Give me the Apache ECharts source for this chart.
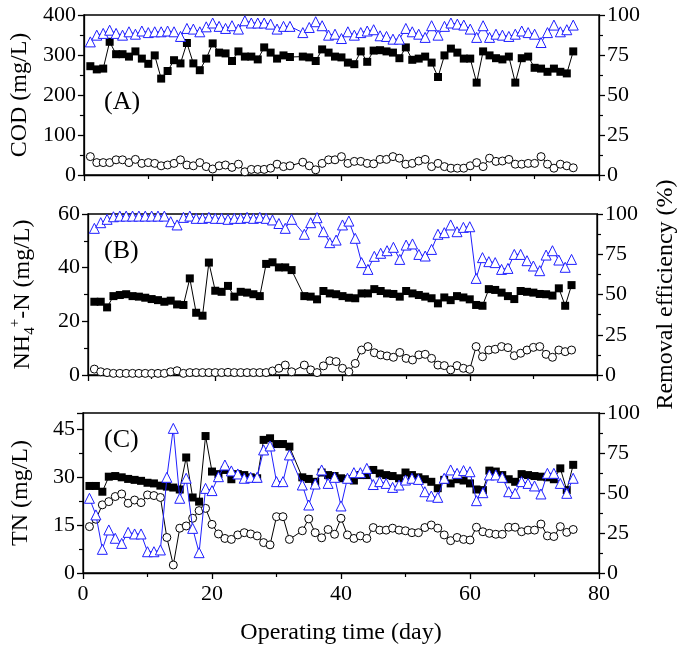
<!DOCTYPE html>
<html>
<head>
<meta charset="utf-8">
<script src="https://cdn.jsdelivr.net/npm/echarts@6/dist/echarts.min.js"></script>
<style>
  html, body { margin: 0; padding: 0; background: #fff; }
  #main { width: 686px; height: 654px; }
</style>
</head>
<body>
<div id="main"></div>
<script>
// operating days (no sample on day 33)
var days = [1,2,3,4,5,6,7,8,9,10,11,12,13,14,15,16,17,18,19,20,21,22,23,24,25,26,27,28,29,30,31,32,
    34,35,36,37,38,39,40,41,42,43,44,45,46,47,48,49,50,51,52,53,54,55,56,57,58,59,60,61,62,63,64,65,66,67,68,69,70,71,72,73,74,75,76];

// (A) COD mg/L
var codIn = [272,264,266,333,302,302,296,309,291,278,299,241,260,287,279,330,279,262,291,329,306,304,285,309,296,296,289,319,306,291,299,295,
    296,294,285,314,306,296,294,281,277,309,283,311,312,309,306,292,319,288,291,296,281,245,299,316,306,291,291,231,309,299,292,289,296,231,292,296,268,266,258,266,258,254,309];
var codOut = [46,31,31,31,38,38,31,39,29,31,29,23,25,29,38,25,23,31,21,15,23,25,19,27,8,14,14,14,17,27,21,23,
    32,23,13,29,38,38,46,29,34,34,29,28,39,39,46,42,27,29,35,39,21,29,21,17,17,17,23,31,21,42,34,35,39,27,27,29,29,46,27,17,27,23,18];
var codEff = [83.2,87.4,88.5,90.5,88.5,87.4,89.5,88,90,89,89.5,89.5,90,89.5,86.6,91.6,91.2,89.5,92.6,95,92.9,91.6,93.3,91.2,96.4,95,95,95,94.3,91.2,92.9,92.9,
    89,92.2,95.8,93.3,87.4,88,85.3,89.5,87.4,89,90,90.8,87,86.6,84.9,84.9,91.6,89.5,88,86,93.3,87.4,92.9,95,94.3,93.7,91.2,86,93.3,86,88,87.4,86.6,88,90,89,88,82.8,89,93.7,89.5,90.8,93.7];

// (B) NH4+-N mg/L
var nh4In = [27.3,27.3,25.2,29.4,29.8,30.1,29.4,29.2,28.8,28.3,27.9,27.3,27.7,26.3,26.1,36.0,23.2,22.1,41.9,31.4,31.0,33.2,29.2,31.0,30.7,30.1,29.4,41.4,42.0,40.1,40.1,39.1,
    29.4,29.2,28.2,31.3,30.4,30.1,29.4,28.8,28.6,30.4,30.4,32.0,31.3,30.4,30.2,29.2,31.3,30.4,29.8,29.2,28.6,26.7,28.9,27.9,29.4,28.9,28.2,26.1,25.8,32.0,31.7,30.7,29.4,28.3,31.3,31.0,30.7,30.2,30.1,29.6,32.3,25.8,33.5];
var nh4Out = [2.2,1.2,0.9,0.6,0.6,0.6,0.6,0.6,0.6,0.6,0.6,0.6,1.2,1.6,0.6,0.9,0.9,0.9,0.9,0.9,0.9,1.0,0.9,0.9,0.9,0.9,0.9,0.9,1.5,2.5,3.7,1.2,
    3.7,1.9,0.9,3.4,5.3,5.0,2.5,1.2,4.3,9.3,10.6,8.3,7.5,7.1,6.6,8.4,6.2,5.6,7.5,7.7,6.2,3.7,3.5,1.9,3.5,2.5,2.1,10.6,6.8,9.3,9.6,10.6,10.2,7.2,8.1,9.3,10.3,10.6,7.7,6.6,9.3,8.7,9.3];
var nh4Eff = [91.1,94.6,96.7,98.3,98.7,98.7,98.7,98.7,98.7,98.7,98.7,98.7,95.2,93.2,97.9,98.7,97.3,97.3,97.9,97.3,97.3,96.7,97.3,97.3,97.9,97.3,97.9,97.3,96.3,94.1,91.1,96.7,
    87.4,94.6,97.7,89,82.2,83.8,93.2,95.6,84.9,69.8,65.6,73.7,75.6,77.2,79.3,71.8,80.7,81.4,74.9,73.9,78.0,87.4,88.4,93.2,89,91.7,92.1,60,72.9,70.4,69.8,65.6,66.2,74.9,74.9,71,67.7,64.8,74.5,77.2,71.4,66.9,71.8];

// (C) TN mg/L
var tnIn = [27.2,27.2,25.4,30.1,30.3,29.9,29.4,29.1,28.8,28.2,28.0,27.3,27.0,26.7,26.1,36.1,23.6,22.3,42.8,31.7,30.9,32.2,29.3,30.9,30.6,29.9,29.6,41.6,42.1,40.3,40.3,39.5,
    29.9,29.4,28.5,31.4,30.6,30.3,29.6,29.3,28.9,30.6,30.6,32.2,31.1,30.6,30.3,29.6,31.4,30.6,29.9,29.3,28.5,26.5,29.1,28.0,29.3,28.9,28.0,26.1,25.9,32.0,31.7,30.6,29.3,28.5,30.9,30.6,30.3,30.1,29.9,29.3,32.7,25.9,33.8];
var tnOut = [14.5,16.8,21.3,22.3,23.9,24.7,21.8,22.8,22.0,24.4,24.2,23.6,11.1,2.5,14.0,14.7,17.1,19.5,20.2,15.2,12.2,10.8,10.5,11.9,12.6,12.2,11.6,9.5,8.8,17.6,17.6,10.5,
    13.2,16.9,12.6,11.0,13.6,12.1,17.1,11.9,10.8,11.6,10.8,14.2,13.4,13.4,14.0,13.4,13.2,12.6,12.6,14.2,15.0,14.0,11.9,10.1,11.1,10.5,10.3,14.3,12.9,12.4,12.1,12.1,14.3,14.3,12.9,13.4,13.4,15.3,11.6,11.4,14.5,12.7,13.6];
var tnEff = [46.7,36.3,14.8,26.9,21.7,18.5,25.4,24.4,24.4,13.3,13.3,14.4,59.8,90.4,46.7,59.2,27.9,12.7,52.9,51.5,60.2,67.5,63.8,61.9,59.2,59.8,59.8,76.9,79.4,57.1,57.1,73.8,
    55,42.5,55.6,64.4,56,59.8,41.9,59.2,62.7,62.7,65.4,55.3,57.1,56,53.5,55,58.1,59.2,58.5,50.8,48.1,47.3,59.2,64.4,62.3,64,63.3,45.2,50.2,61.3,61.3,59.8,50.8,49.8,57.1,56,54.4,49.4,62.3,62.3,56,49.8,59.2];

var FONT = 'Liberation Serif';
var BLUE = '#1f1fff';

function pairs(arr) {
    return days.map(function (d, i) { return [d, arr[i]]; });
}

function xAxisFor(idx, showLabel) {
    var ax = {
        type: 'value', gridIndex: idx, min: 0, max: 80, interval: 20,
        axisLine: { onZero: false, lineStyle: { color: '#000', width: 1.3 } },
        axisTick: { length: 6, lineStyle: { color: '#000', width: 1.3 } },
        minorTick: { show: true, splitNumber: 2, length: 4, lineStyle: { color: '#000', width: 1.2 } },
        splitLine: { show: false },
        axisLabel: { show: showLabel, color: '#000', fontFamily: FONT, fontSize: 22, margin: 10 }
    };
    if (showLabel) {
        ax.name = 'Operating time (day)';
        ax.nameLocation = 'middle';
        ax.nameGap = 48;
        ax.nameTextStyle = { color: '#000', fontFamily: FONT, fontSize: 24 };
    }
    return ax;
}

function leftAxis(idx, max, interval, name, extra) {
    var ax = {
        type: 'value', gridIndex: idx, position: 'left', min: 0, max: max, interval: interval,
        axisLine: { show: true, lineStyle: { color: '#000', width: 1.3 } },
        axisTick: { length: 6, lineStyle: { color: '#000', width: 1.3 } },
        minorTick: { show: true, splitNumber: 2, length: 4, lineStyle: { color: '#000', width: 1.2 } },
        splitLine: { show: false },
        axisLabel: { color: '#000', fontFamily: FONT, fontSize: 22, margin: 8 },
        name: name, nameLocation: 'middle', nameGap: 50,
        nameTextStyle: { color: '#000', fontFamily: FONT, fontSize: 24 }
    };
    if (extra) { for (var k in extra) ax[k] = extra[k]; }
    return ax;
}

function rightAxis(idx, withName) {
    var ax = {
        type: 'value', gridIndex: idx, position: 'right', min: 0, max: 100, interval: 25,
        axisLine: { show: true, lineStyle: { color: '#000', width: 1.3 } },
        axisTick: { length: 6, lineStyle: { color: '#000', width: 1.3 } },
        minorTick: { show: true, splitNumber: 2, length: 4, lineStyle: { color: '#000', width: 1.2 } },
        splitLine: { show: false },
        axisLabel: { color: '#000', fontFamily: FONT, fontSize: 22, margin: 8 }
    };
    if (withName) {
        ax.name = 'Removal efficiency (%)';
        ax.nameLocation = 'middle';
        ax.nameGap = 57;
        ax.nameTextStyle = { color: '#000', fontFamily: FONT, fontSize: 24 };
    }
    return ax;
}

function squares(arr, xi, yi) {
    return { type: 'line', xAxisIndex: xi, yAxisIndex: yi, data: pairs(arr),
        symbol: 'rect', symbolSize: 8, z: 3,
        itemStyle: { color: '#000' }, lineStyle: { color: '#000', width: 1 } };
}
function circles(arr, xi, yi) {
    return { type: 'line', xAxisIndex: xi, yAxisIndex: yi, data: pairs(arr),
        symbol: 'circle', symbolSize: 8, z: 3,
        itemStyle: { color: '#fff', borderColor: '#000', borderWidth: 1 }, lineStyle: { color: '#000', width: 1 } };
}
function triangles(arr, xi, yi) {
    return { type: 'line', xAxisIndex: xi, yAxisIndex: yi, data: pairs(arr),
        symbol: 'triangle', symbolSize: 10, z: 4,
        itemStyle: { color: '#fff', borderColor: BLUE, borderWidth: 1 }, lineStyle: { color: BLUE, width: 1 } };
}

var option = {
    animation: false,
    backgroundColor: '#fff',
    grid: [
        { left: 83, right: 87, top: 15, height: 160, show: true, borderColor: '#000', borderWidth: 1.3 },
        { left: 83, right: 87, top: 214, height: 161, show: true, borderColor: '#000', borderWidth: 1.3 },
        { left: 83, right: 87, top: 413, height: 160, show: true, borderColor: '#000', borderWidth: 1.3 }
    ],
    xAxis: [xAxisFor(0, false), xAxisFor(1, false), xAxisFor(2, true)],
    yAxis: [
        leftAxis(0, 400, 100, 'COD (mg/L)'),
        rightAxis(0, false),
        leftAxis(1, 60, 20, 'NH{sub|4}{sup|+}-N (mg/L)', {
            nameTextStyle: { color: '#000', fontFamily: FONT, fontSize: 24, lineHeight: 30,
                rich: {
                    sub: { fontFamily: FONT, fontSize: 15, color: '#000', verticalAlign: 'bottom', lineHeight: 30 },
                    sup: { fontFamily: FONT, fontSize: 15, color: '#000', verticalAlign: 'top', lineHeight: 30 }
                } }
        }),
        rightAxis(1, true),
        leftAxis(2, 50, 15, 'TN (mg/L)', {
            axisLabel: { color: '#000', fontFamily: FONT, fontSize: 22, margin: 8, showMaxLabel: false }
        }),
        rightAxis(2, false)
    ],
    graphic: [
        { type: 'text', left: 104, top: 89, style: { text: '(A)', font: '26px "Liberation Serif"', fill: '#000' } },
        { type: 'text', left: 104, top: 238, style: { text: '(B)', font: '26px "Liberation Serif"', fill: '#000' } },
        { type: 'text', left: 104, top: 427, style: { text: '(C)', font: '26px "Liberation Serif"', fill: '#000' } }
    ],
    series: [
        squares(codIn, 0, 0), circles(codOut, 0, 0), triangles(codEff, 0, 1),
        squares(nh4In, 1, 2), circles(nh4Out, 1, 2), triangles(nh4Eff, 1, 3),
        squares(tnIn, 2, 4), circles(tnOut, 2, 4), triangles(tnEff, 2, 5)
    ]
};

var myChart = echarts.init(document.getElementById('main'));
myChart.setOption(option);
</script>
</body>
</html>
